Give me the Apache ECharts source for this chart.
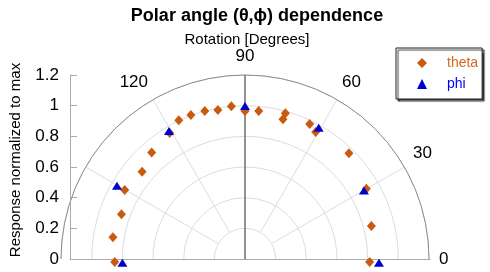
<!DOCTYPE html>
<html>
<head>
<meta charset="utf-8">
<script src="https://cdn.jsdelivr.net/npm/echarts@6/dist/echarts.min.js"></script>
<style>
  html, body { margin: 0; padding: 0; background: #fff; }
  #chart { width: 490px; height: 272px; }
</style>
</head>
<body>
<div id="chart"></div>
<script>
// values: angle in degrees, response normalized to max
const thetaAngles = [181.3, 170.7, 160.1, 150.2, 139.7, 131.2, 120.9, 115.5, 110.6, 105.2, 100.3, 95.1, 90, 84.7, 74.5, 74.8, 64.4, 60.9, 45.5, 30.1, 14.6, -1.4];
const thetaValues = [0.85, 0.873, 0.857, 0.904, 0.88, 0.924, 0.957, 1.003, 1.003, 1.0, 0.988, 1.0, 0.965, 0.969, 0.986, 0.944, 0.976, 0.948, 0.967, 0.915, 0.852, 0.813];
const phiAngles = [181.7, 150.2, 120.7, 90, 60.7, 29.9, -1.6];
const phiValues = [0.80, 0.962, 0.971, 0.998, 0.982, 0.895, 0.874];

const spokeAngles = [30, 60, 120, 150];
const hiddenAngleLabels = [150, 180];

const thetaColor = '#c95b10';
const phiColor = '#0000d0';

const chart = echarts.init(document.getElementById('chart'));

const spokes = spokeAngles.map(a => ({
  type: 'line',
  coordinateSystem: 'polar',
  data: [[0.2, a], [1.2, a]],
  symbol: 'none',
  silent: true,
  z: 1,
  lineStyle: { color: '#dcdcdc', width: 1 }
}));

const option = {
  animation: false,
  textStyle: { fontFamily: 'Liberation Sans, Arial, sans-serif' },
  title: [
    {
      text: 'Polar angle (θ,ϕ) dependence',
      left: 252,
      textAlign: 'center',
      top: 2,
      textStyle: { fontSize: 18, fontWeight: 'bold', color: '#000' }
    },
    {
      text: 'Rotation [Degrees]',
      left: 242,
      textAlign: 'center',
      top: 27,
      textStyle: { fontSize: 15, fontWeight: 'normal', color: '#000' }
    }
  ],
  legend: {
    orient: 'vertical',
    left: 396,
    top: 48,
    padding: [8, 4, 8, 21],
    itemWidth: 10,
    itemHeight: 10,
    itemGap: 7,
    backgroundColor: '#fff',
    borderColor: '#222',
    borderWidth: 1,
    borderRadius: 0,
    shadowColor: 'rgba(0,0,0,0.75)',
    shadowBlur: 1,
    shadowOffsetX: 2,
    shadowOffsetY: 2,
    textStyle: { fontSize: 14, padding: [0, 0, 0, 15] },
    data: [
      { name: 'theta', icon: 'diamond', textStyle: { color: '#d2691e' } },
      { name: 'phi', icon: 'triangle', textStyle: { color: '#0000ff' } }
    ]
  },
  grid: { left: 61, top: 75, width: 369, height: 184 },
  xAxis: {
    type: 'value',
    min: 0,
    max: 1,
    axisLine: { show: true, lineStyle: { color: '#aaa' } },
    axisTick: { show: false },
    axisLabel: { show: false },
    splitLine: { show: false }
  },
  yAxis: {
    type: 'value',
    min: 0,
    max: 1.2,
    interval: 0.2,
    name: 'Response normalized to max',
    nameLocation: 'middle',
    nameGap: 47,
    nameTextStyle: { fontSize: 15, color: '#000', padding: [0, 0, 0, 14] },
    axisLine: { show: true, lineStyle: { color: '#aaa' } },
    axisTick: { show: true, inside: true, length: 7, lineStyle: { color: '#aaa' } },
    axisLabel: { fontSize: 17, color: '#000', margin: 11 },
    splitLine: { show: false }
  },
  polar: { center: [245, 259], radius: [0, 184] },
  angleAxis: {
    type: 'value',
    min: 0,
    max: 180,
    interval: 30,
    startAngle: 0,
    endAngle: 180,
    clockwise: false,
    axisLine: { show: true, lineStyle: { color: '#8c8c8c' } },
    axisTick: { show: false },
    axisLabel: {
      fontSize: 17,
      color: '#000',
      margin: 10,
      formatter: v => (hiddenAngleLabels.includes(v) ? '' : String(v))
    },
    splitLine: { show: false }
  },
  radiusAxis: {
    type: 'value',
    min: 0,
    max: 1.2,
    interval: 0.2,
    axisLine: { show: false },
    axisTick: { show: false },
    axisLabel: { show: false },
    splitLine: { show: true, lineStyle: { color: '#dcdcdc', width: 1 } }
  },
  series: [
    ...spokes,
    {
      type: 'line',
      coordinateSystem: 'polar',
      data: [[0, 90], [1.2, 90]],
      symbol: 'none',
      silent: true,
      z: 2,
      lineStyle: { color: '#6e6e6e', width: 1.5 }
    },
    {
      name: 'theta',
      type: 'scatter',
      coordinateSystem: 'polar',
      symbol: 'diamond',
      symbolSize: [9, 10],
      z: 5,
      itemStyle: { color: thetaColor, opacity: 1 },
      data: thetaAngles.map((a, i) => [thetaValues[i], a])
    },
    {
      name: 'phi',
      type: 'scatter',
      coordinateSystem: 'polar',
      symbol: 'triangle',
      symbolSize: [10, 8],
      z: 6,
      itemStyle: { color: phiColor, opacity: 1 },
      data: phiAngles.map((a, i) => [phiValues[i], a])
    }
  ]
};

chart.setOption(option);
</script>
</body>
</html>
